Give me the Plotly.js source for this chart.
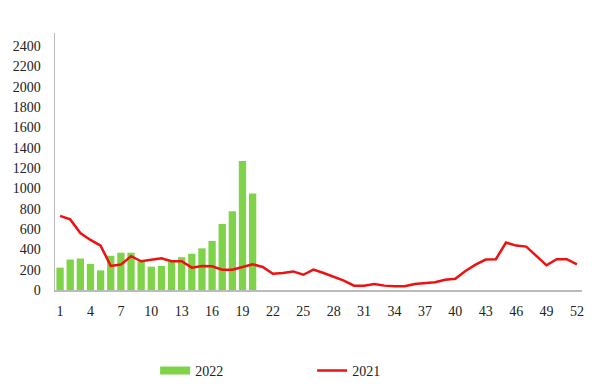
<!DOCTYPE html>
<html>
<head>
<meta charset="utf-8">
<script src="https://cdn.plot.ly/plotly-3.0.1.min.js"></script>
<style>html,body{margin:0;padding:0;background:#fff}#chart{width:600px;height:388px}</style>
</head>
<body>
<div id="chart"></div>
<script>
const weeks = Array.from({length: 52}, (_, i) => i + 1);
const weeks2022 = weeks.slice(0, 20);
const values2022 = [220, 300, 310, 257, 193, 337, 367, 367, 283, 230, 237, 280, 323, 357, 410, 483, 650, 775, 1270, 950];
const values2021 = [730, 695, 560, 493, 437, 237, 250, 333, 283, 300, 313, 283, 283, 220, 237, 233, 200, 200, 227, 253,
  227, 160, 167, 183, 150, 200, 167, 127, 93, 43, 43, 60, 43, 37, 37, 60, 67, 77, 100, 110,
  187, 250, 300, 303, 467, 437, 427, 333, 243, 303, 303, 253];
const tickVals = [1, 4, 7, 10, 13, 16, 19, 22, 25, 28, 31, 34, 37, 40, 43, 46, 49, 52];
const yTicks = [0, 200, 400, 600, 800, 1000, 1200, 1400, 1600, 1800, 2000, 2200, 2400];

const green = '#7ed348';
const red = '#ee1111';

const traces = [
  {type: 'bar', x: weeks2022, y: values2022, marker: {color: green}, showlegend: false, hoverinfo: 'x+y'},
  {type: 'scatter', mode: 'lines', x: [null], y: [null], name: '2022', line: {color: green, width: 8}},
  {type: 'scatter', mode: 'lines', x: weeks, y: values2021, name: '2021', line: {color: red, width: 2.5}}
];

const layout = {
  width: 600, height: 388,
  margin: {l: 55, r: 18, t: 33, b: 98, autoexpand: false},
  paper_bgcolor: '#fff', plot_bgcolor: '#fff',
  font: {family: '"Liberation Serif", "Times New Roman", serif', size: 14, color: '#222'},
  bargap: 0.28,
  xaxis: {
    range: [0.5, 52.5], tickvals: tickVals, ticktext: tickVals.map(String),
    showgrid: false, zeroline: false, showline: true, linecolor: '#bbb', linewidth: 1.5,
    ticks: '', ticklabelstandoff: 8, fixedrange: true, automargin: false
  },
  yaxis: {
    range: [0, 2530], tickvals: yTicks, ticktext: yTicks.map(String),
    showgrid: false, zeroline: false, showline: true, linecolor: '#bbb', linewidth: 1.5,
    ticks: '', ticklabelstandoff: 10, fixedrange: true, automargin: false
  },
  showlegend: true,
  legend: {
    orientation: 'h', x: 0.19, xanchor: 'left', y: -0.315, yanchor: 'middle',
    entrywidth: 112, entrywidthmode: 'pixels', font: {size: 14},
    bgcolor: 'rgba(0,0,0,0)'
  }
};

Plotly.newPlot('chart', traces, layout, {displayModeBar: false, staticPlot: true});
</script>
</body>
</html>
